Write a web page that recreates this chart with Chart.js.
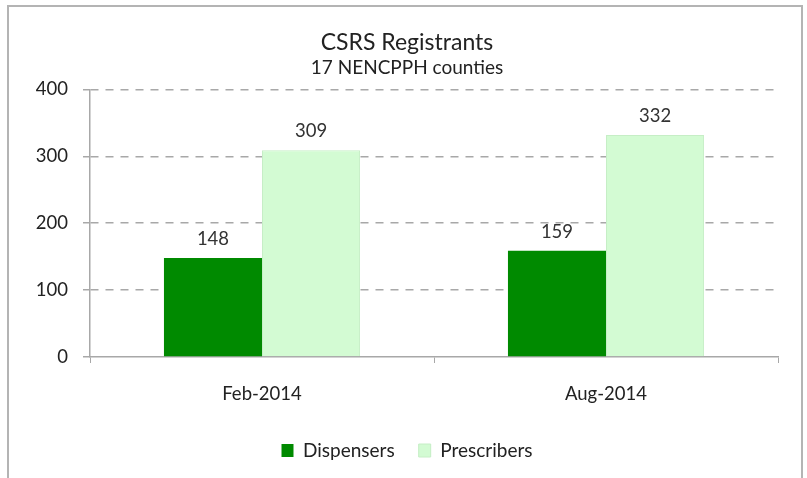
<!DOCTYPE html>
<html>
<head>
<meta charset="utf-8">
<script src="https://cdn.jsdelivr.net/npm/chart.js@4"></script>
<style>
  html, body { margin: 0; padding: 0; background: #ffffff; }
  #wrap { width: 807px; height: 478px; position: relative; }
</style>
</head>
<body>
<div id="wrap"><canvas id="c" width="807" height="478"></canvas></div>
<script>
const categories = ["Feb-2014", "Aug-2014"];
const dispensers = [148, 159];
const prescribers = [309, 332];
const seriesNames = ["Dispensers", "Prescribers"];
const yTicks = [0, 100, 200, 300, 400];

const FONT = "Lato, 'Open Sans', sans-serif";

const framePlugin = {
  id: 'frame',
  beforeDraw(chart) {
    const ctx = chart.ctx;
    ctx.save();
    ctx.strokeStyle = '#b4b4b4';
    ctx.lineWidth = 2;
    ctx.beginPath();
    ctx.moveTo(8, 478);
    ctx.lineTo(8, 6);
    ctx.lineTo(802, 6);
    ctx.lineTo(802, 478);
    ctx.stroke();
    ctx.restore();
  }
};

const labelPlugin = {
  id: 'valueLabels',
  afterDatasetsDraw(chart) {
    const ctx = chart.ctx;
    ctx.save();
    ctx.font = '18.5px ' + FONT;
    ctx.fillStyle = '#333333';
    ctx.textAlign = 'center';
    ctx.textBaseline = 'middle';
    chart.data.datasets.forEach((ds, di) => {
      const meta = chart.getDatasetMeta(di);
      meta.data.forEach((bar, i) => {
        ctx.fillText(String(ds.data[i]), bar.x, bar.y - 19);
      });
    });
    ctx.restore();
  }
};

new Chart(document.getElementById('c'), {
  type: 'bar',
  data: {
    labels: categories,
    datasets: [
      { label: seriesNames[0], data: dispensers, backgroundColor: '#008a00', borderWidth: 0 },
      { label: seriesNames[1], data: prescribers, backgroundColor: '#d3fbd3', borderColor: '#c6eec6', borderWidth: 1 }
    ]
  },
  options: {
    responsive: false,
    animation: false,
    devicePixelRatio: 1,
    layout: { padding: { left: 36, right: 29, top: 0, bottom: 8 } },
    datasets: { bar: { barPercentage: 1.0, categoryPercentage: 0.57 } },
    plugins: {
      title: {
        display: true,
        text: 'CSRS Registrants',
        color: '#222222',
        font: { family: FONT, size: 23, weight: 'normal' },
        padding: { top: 29, bottom: 0 }
      },
      subtitle: {
        display: true,
        text: '17 NENCPPH counties',
        color: '#222222',
        font: { family: FONT, size: 19, weight: 'normal' },
        padding: { top: 0, bottom: 10 }
      },
      legend: {
        position: 'bottom',
        labels: {
          color: '#222222',
          font: { family: FONT, size: 19 },
          boxWidth: 12,
          boxHeight: 13,
          padding: 24
        }
      },
      tooltip: { enabled: false }
    },
    scales: {
      x: {
        grid: {
          display: true,
          drawOnChartArea: false,
          drawTicks: true,
          tickLength: 6,
          color: '#a8a8a8',
          offset: true
        },
        border: { display: true, color: '#a8a8a8', width: 1.5 },
        ticks: {
          color: '#222222',
          font: { family: FONT, size: 18.5 },
          padding: 20
        },
        afterFit(scale) { scale.height = 60; }
      },
      y: {
        min: 0,
        max: 400,
        afterBuildTicks(scale) { scale.ticks = yTicks.map(v => ({ value: v })); },
        grid: {
          color: (ctx) => (ctx.tick && ctx.tick.value === 0) ? 'rgba(0,0,0,0)' : '#a8a8a8',
          lineWidth: 1.5,
          drawTicks: true,
          tickLength: 7,
          tickColor: '#a8a8a8',
          tickBorderDash: [],
          tickWidth: 1.5
        },
        border: { display: true, color: '#a8a8a8', width: 1.5, dash: [8, 7] },
        ticks: {
          color: '#222222',
          font: { family: FONT, size: 18.5 },
          padding: 15
        },
        afterFit(scale) { scale.width = 54; }
      }
    }
  },
  plugins: [framePlugin, labelPlugin]
});
</script>
</body>
</html>
